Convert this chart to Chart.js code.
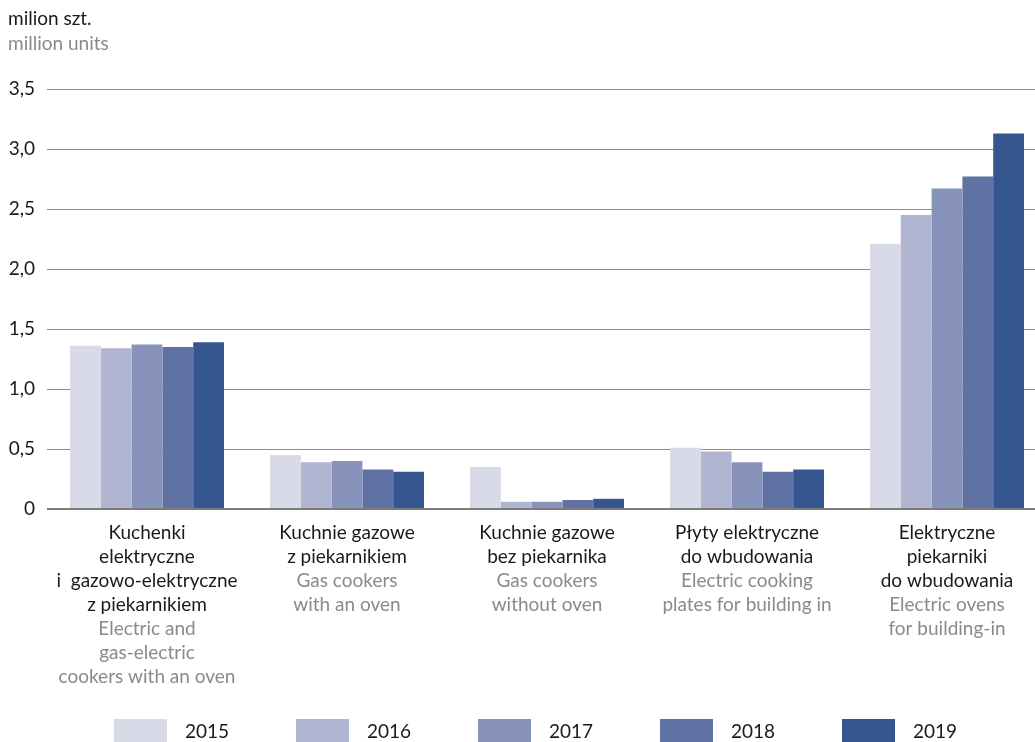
<!DOCTYPE html>
<html>
<head>
<meta charset="utf-8">
<script src="https://cdn.jsdelivr.net/npm/chart.js@4/dist/chart.umd.min.js"></script>
<style>
  html, body { margin: 0; padding: 0; background: #fff; overflow: hidden; }
  #wrap { width: 1047px; height: 742px; }
</style>
</head>
<body>
<div id="wrap"><canvas id="barChart"></canvas></div>
<script>
const categoriesPl = [
  ['Kuchenki', 'elektryczne', 'i  gazowo-elektryczne', 'z piekarnikiem'],
  ['Kuchnie gazowe', 'z piekarnikiem'],
  ['Kuchnie gazowe', 'bez piekarnika'],
  ['Płyty elektryczne', 'do wbudowania'],
  ['Elektryczne', 'piekarniki', 'do wbudowania']
];
const categoriesEn = [
  ['Electric and', 'gas-electric', 'cookers with an oven'],
  ['Gas cookers', 'with an oven'],
  ['Gas cookers', 'without oven'],
  ['Electric cooking', 'plates for building in'],
  ['Electric ovens', 'for building-in']
];
const years = ['2015', '2016', '2017', '2018', '2019'];
const values2015 = [1.36, 0.45, 0.35, 0.51, 2.21];
const values2016 = [1.34, 0.39, 0.06, 0.48, 2.45];
const values2017 = [1.37, 0.40, 0.06, 0.39, 2.67];
const values2018 = [1.35, 0.33, 0.075, 0.31, 2.77];
const values2019 = [1.39, 0.31, 0.085, 0.33, 3.13];
const yTicks = [0, 0.5, 1.0, 1.5, 2.0, 2.5, 3.0, 3.5];

const colors = ['#d8dae8', '#b0b5d2', '#8893bc', '#6072a3', '#34558d'];
const FONT = 'Lato, "Open Sans", sans-serif';

const labelsPlugin = {
  id: 'labelsPlugin',
  afterDraw(chart) {
    const ctx = chart.ctx;
    const x = chart.scales.x;
    ctx.save();
    // unit label
    ctx.font = '19px ' + FONT;
    ctx.textAlign = 'left';
    ctx.textBaseline = 'alphabetic';
    ctx.fillStyle = '#1a1a1a';
    ctx.fillText('milion szt.', 8, 25);
    ctx.fillStyle = '#8a8a8a';
    ctx.fillText('million units', 8, 50);

    // category labels
    ctx.textAlign = 'center';
    categoriesPl.forEach((pl, i) => {
      const cx = x.getPixelForValue(i);
      let y = 539;
      ctx.fillStyle = '#1a1a1a';
      pl.forEach(line => { ctx.fillText(line, cx, y); y += 24; });
      ctx.fillStyle = '#8a8a8a';
      categoriesEn[i].forEach(line => { ctx.fillText(line, cx, y); y += 24; });
    });

    // legend
    ctx.textAlign = 'left';
    ctx.textBaseline = 'middle';
    chart.data.datasets.forEach((ds, i) => {
      const bx = 114 + i * 182;
      ctx.fillStyle = ds.backgroundColor;
      ctx.fillRect(bx, 719, 53, 23);
      ctx.fillStyle = '#1a1a1a';
      ctx.fillText(ds.label, bx + 71, 732);
    });
    ctx.restore();
  }
};

const seriesValues = [values2015, values2016, values2017, values2018, values2019];

new Chart(document.getElementById('barChart'), {
  type: 'bar',
  data: {
    labels: categoriesPl.map(c => c.join(' ')),
    datasets: years.map((y, i) => ({
      label: y,
      data: seriesValues[i],
      backgroundColor: colors[i],
      borderWidth: 0,
      barPercentage: 1.0,
      categoryPercentage: 0.77
    }))
  },
  options: {
    responsive: true,
    maintainAspectRatio: false,
    animation: false,
    layout: { padding: { top: 89, bottom: 233, left: 0, right: 0 } },
    plugins: { legend: { display: false }, tooltip: { enabled: false } },
    scales: {
      x: {
        afterFit(scale) { scale.height = 0; },
        ticks: { display: false },
        grid: { display: false },
        border: { display: false }
      },
      y: {
        min: 0,
        max: 3.5,
        afterFit(scale) { scale.width = 47; },
        afterBuildTicks(scale) { scale.ticks = yTicks.map(v => ({ value: v })); },
        ticks: {
          padding: 12,
          color: '#1a1a1a',
          font: { family: FONT, size: 19 },
          callback: v => v === 0 ? '0' : v.toFixed(1).replace('.', ',')
        },
        grid: {
          drawTicks: false,
          color: ctx => ctx.tick && ctx.tick.value === 0 ? '#7a7a7a' : '#8c8c8c',
          lineWidth: ctx => ctx.tick && ctx.tick.value === 0 ? 2 : 1
        },
        border: { display: false }
      }
    }
  },
  plugins: [labelsPlugin]
});
</script>
</body>
</html>
